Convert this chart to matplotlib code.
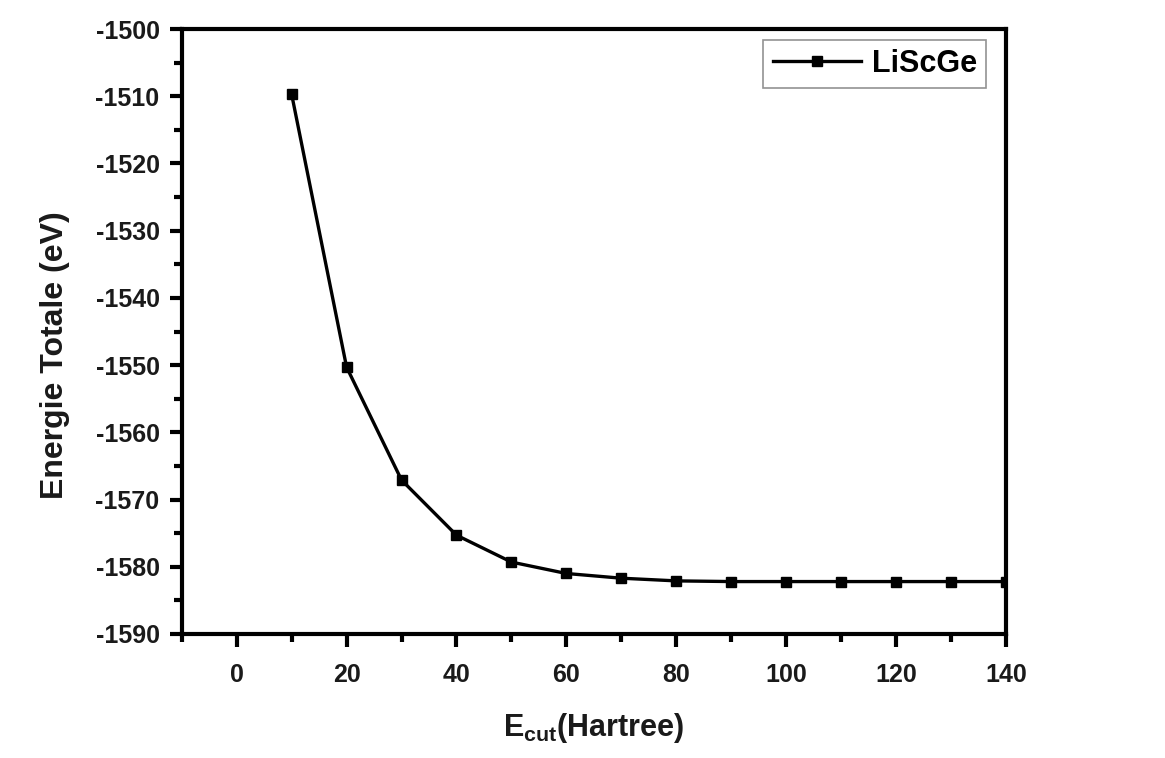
import matplotlib

matplotlib.use("Agg")
import matplotlib.pyplot as plt
from matplotlib.ticker import MultipleLocator

plt.rcParams["font.family"] = ["Liberation Sans", "DejaVu Sans"]
plt.rcParams["font.weight"] = "bold"
plt.rcParams["axes.unicode_minus"] = False
plt.rcParams["mathtext.fontset"] = "custom"
plt.rcParams["mathtext.rm"] = "Liberation Sans:bold"
plt.rcParams["mathtext.bf"] = "Liberation Sans:bold"

# cutoff energy convergence for LiScGe
ecut = [10, 20, 30, 40, 50, 60, 70, 80, 90, 100, 110, 120, 130, 140]
energy = [-1509.7, -1550.3, -1567.1, -1575.3, -1579.3, -1581.0, -1581.7,
          -1582.1, -1582.2, -1582.2, -1582.2, -1582.2, -1582.2, -1582.2]
series_label = "LiScGe"

fig = plt.figure(figsize=(11.65, 7.58), dpi=100)
ax = fig.add_axes([0.156, 0.1636, 0.7075, 0.7981])

ax.plot(ecut, energy, color="black", linewidth=2.4, marker="s",
        markersize=7.5, label=series_label)

ax.set_xlim(-10, 140)
ax.set_ylim(-1590, -1500)
ax.xaxis.set_major_locator(MultipleLocator(20))
ax.xaxis.set_minor_locator(MultipleLocator(10))
ax.yaxis.set_major_locator(MultipleLocator(10))
ax.yaxis.set_minor_locator(MultipleLocator(5))

for side in ax.spines.values():
    side.set_linewidth(3.0)
ax.tick_params(which="major", direction="out", length=9, width=3,
               labelsize=18, colors="black", labelcolor="#1a1a1a")
ax.tick_params(axis="x", which="major", pad=12)
ax.tick_params(axis="y", which="major", pad=7)
ax.tick_params(which="minor", direction="out", length=5.5, width=3)
ax.tick_params(top=False, right=False, which="both")

ax.set_xlabel(r"$\mathrm{E}_{\mathrm{cut}}$(Hartree)", fontsize=22,
              fontweight="bold", color="#1a1a1a", labelpad=17)
ax.set_ylabel("Energie Totale (eV)", fontsize=23, fontweight="bold",
              color="#1a1a1a")
ax.yaxis.set_label_coords(-0.136, 0.461)

leg = ax.legend(loc="upper right", fontsize=22, fancybox=False,
                frameon=True, handlelength=2.9, borderpad=0.3,
                handletextpad=0.35, borderaxespad=0,
                bbox_to_anchor=(0.976, 0.982))
leg.get_frame().set_edgecolor("#777777")
leg.get_frame().set_linewidth(1.2)

fig.savefig("out.png", dpi=100, facecolor="white")
